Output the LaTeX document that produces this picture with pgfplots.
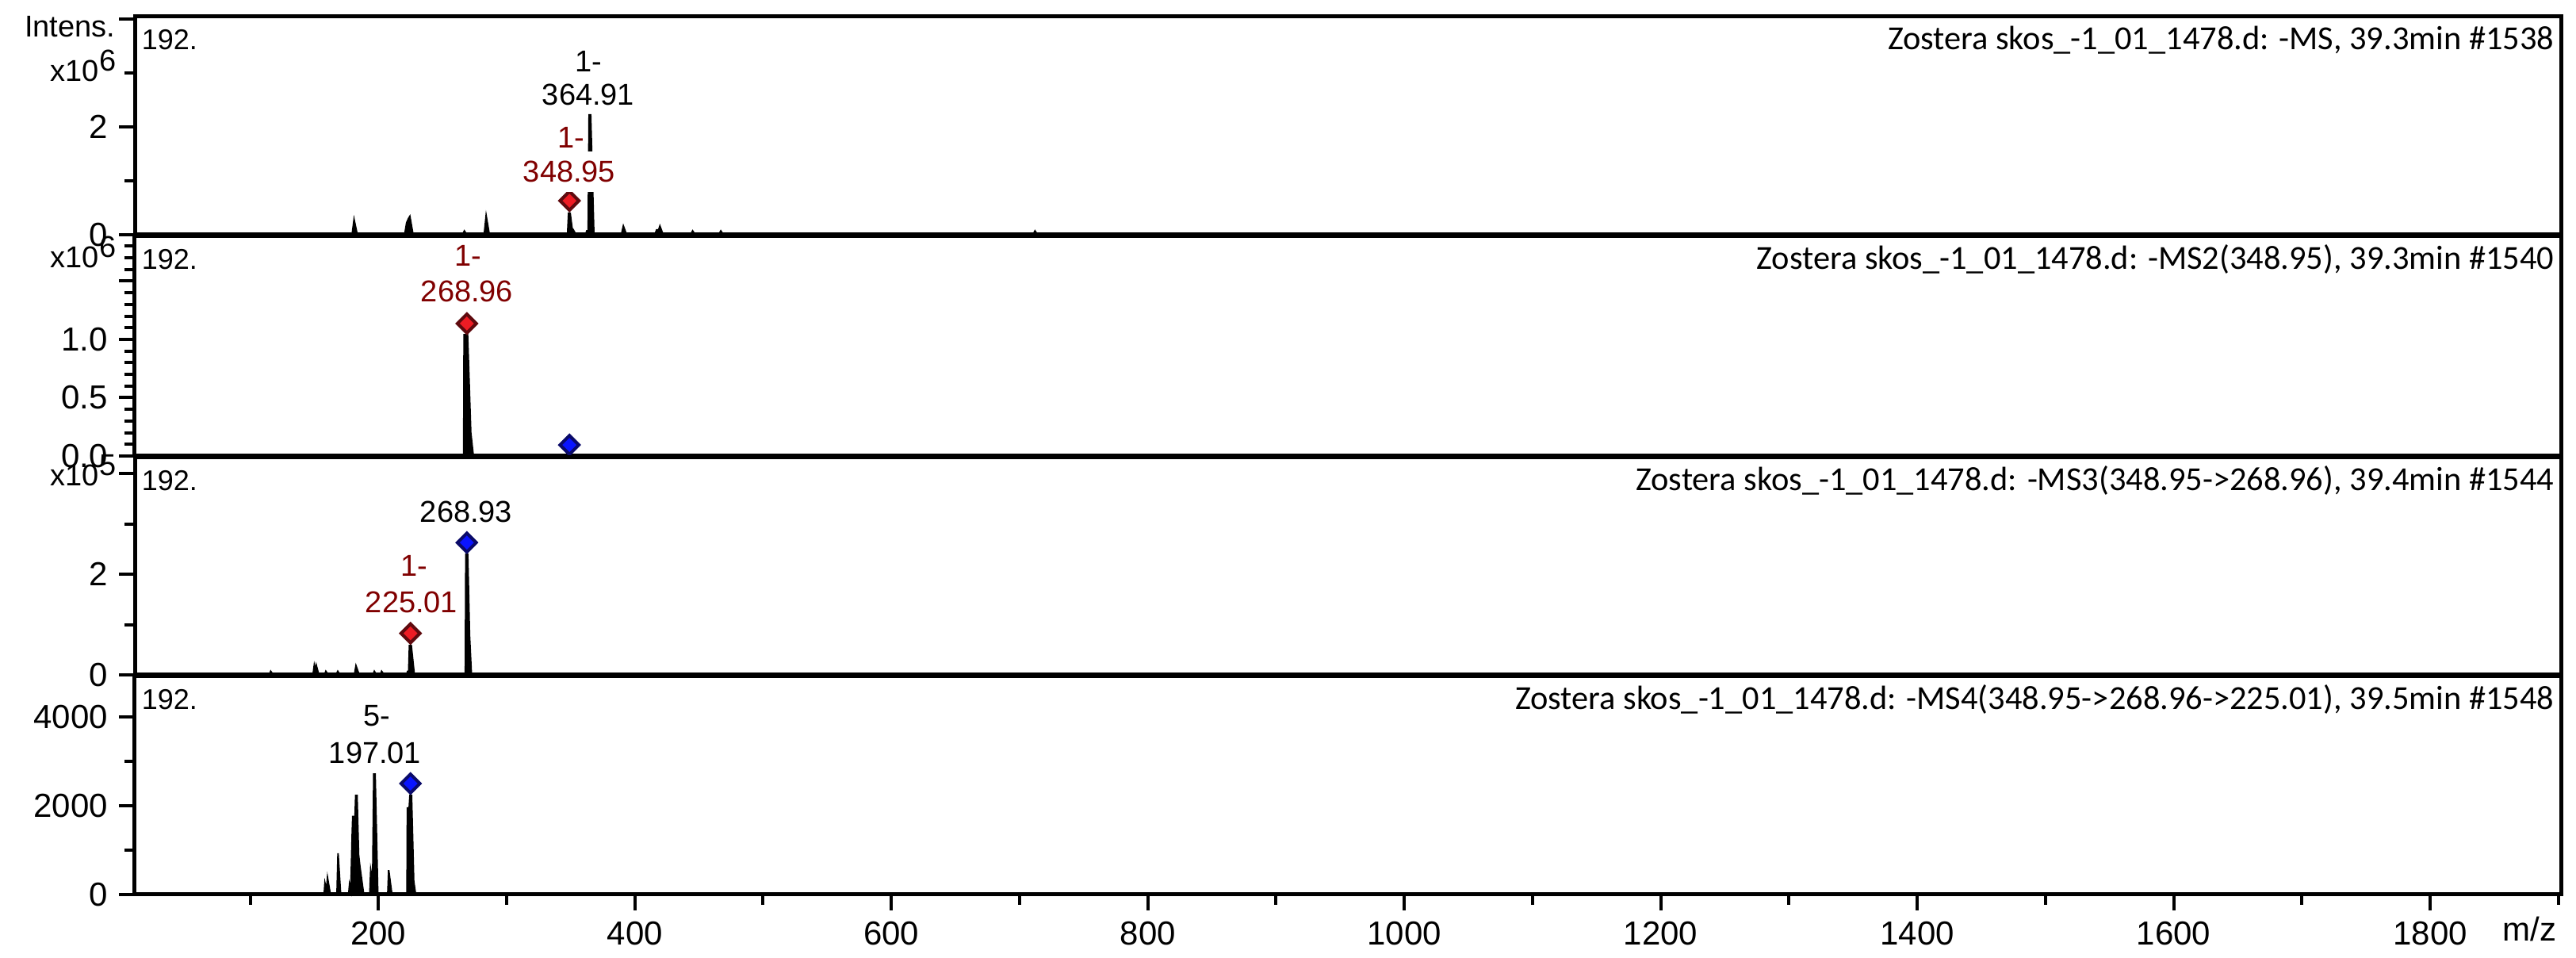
\documentclass[border=0pt]{standalone}
\usepackage{pgfplots}
\pgfplotsset{compat=1.18}
\usepackage{fontspec}
\setmainfont{Liberation Sans}
\newfontfamily\calfont{Carlito}
\definecolor{lblred}{RGB}{128,0,0}
\definecolor{dred}{RGB}{237,28,36}
\definecolor{dredE}{RGB}{95,10,14}
\definecolor{dblue}{RGB}{10,20,255}
\definecolor{dblueE}{RGB}{10,10,105}
\pgfplotsset{
  ms/.style={
    scale only axis, width=765pt, xmin=10, xmax=1902, ymin=0,
    axis line style={line width=1.25pt},
    tick style={line width=1pt, black},
    major tick length=5pt, minor tick length=3.25pt,
    tick align=outside, ytick pos=left, xtick pos=bottom,
    tick label style={font=\fontsize{10.5}{12}\selectfont},
    /pgf/number format/assume math mode=true,
    xtick=\empty, clip=false, axis on top,
  },
  spec/.style={fill=black, draw=black, line width=0.5pt},
  rmark/.style={only marks, mark=square*, mark size=2.1pt,
    mark options={rotate=45, fill=dred, draw=dredE, line width=1pt}},
  bmark/.style={only marks, mark=square*, mark size=2.1pt,
    mark options={rotate=45, fill=dblue, draw=dblueE, line width=1pt}},
}
\newcommand{\lab}{\fontsize{9.5}{11}\selectfont}
\newcommand{\ttl}{\calfont\fontsize{10.6}{12}\selectfont}
\begin{document}
\begin{tikzpicture}
\useasboundingbox (0,0) rectangle (812.25pt,-302pt);
% ---------- Panel 1: MS ----------
\begin{axis}[ms, at={(42.5pt,-74pt)}, anchor=south west, height=68.75pt,
  ymax=4.04, ytick={0,2,4}, yticklabels={0,2,{}}, minor ytick={1,3}]
\addplot[spec] coordinates {(10,0) (179.5,0) (181,0.28) (183.5,0) (220.5,0) (222,0.22) (223.5,0.30) (224.5,0.34) (227,0) (265.5,0) (267,0.07) (269,0) (282.5,0) (284,0.35) (286.5,0) (347.5,0) (348.3,0.40) (349.5,0.40) (351,0.12) (352,0.09) (354,0) (361.5,0) (362.5,0.07) (363.6,0.07) (364.3,2.22) (365.5,2.22) (368,0) (389.5,0) (391,0.16) (393.5,0) (415.5,0) (417,0.09) (418.5,0.09) (419.5,0.16) (422,0) (443.5,0) (445,0.07) (447,0) (465.5,0) (467,0.07) (469,0) (710.5,0) (712,0.07) (714,0) (1902,0)};
\addplot[rmark] coordinates {(348.95,0.63)};
\end{axis}
% ---------- Panel 2: MS2 ----------
\begin{axis}[ms, at={(42.5pt,-143.75pt)}, anchor=south west, height=69.25pt,
  ymax=1.884, ytick={0,0.5,1.0,1.5}, yticklabels={0.0,0.5,1.0,{}},
  minor ytick={0.1,0.2,0.3,0.4,0.6,0.7,0.8,0.9,1.1,1.2,1.3,1.4,1.6,1.7,1.8}]
\addplot[spec] coordinates {(10,0) (266.5,0) (266.8,1.04) (269.5,1.04) (272,0.2) (274,0) (1902,0)};
\addplot[rmark] coordinates {(268.96,1.136)};
\addplot[bmark] coordinates {(348.95,0.095)};
\end{axis}
% ---------- Panel 3: MS3 ----------
\begin{axis}[ms, at={(42.5pt,-212.75pt)}, anchor=south west, height=68.5pt,
  ymax=4.32, ytick={0,2,4}, yticklabels={0,2,{}}, minor ytick={1,3}]
\addplot[spec] coordinates {(10,0) (115,0) (116,0.07) (118,0) (149,0) (150,0.19) (150.8,0.10) (151.5,0.19) (153.5,0) (158,0) (159,0.07) (161,0) (167,0) (168.3,0.07) (170,0) (181.3,0) (182.5,0.18) (185,0) (195.8,0) (196.8,0.07) (198.5,0) (201.5,0) (202.5,0.07) (204.5,0) (221.8,0) (222.8,0.07) (223.6,0.07) (224.2,0.58) (225.6,0.58) (228,0) (267.8,0) (268.2,2.40) (269.6,2.40) (271,0.8) (272.5,0) (1902,0)};
\addplot[rmark] coordinates {(225.01,0.825)};
\addplot[bmark] coordinates {(268.93,2.63)};
\end{axis}
% ---------- Panel 4: MS4 ----------
\begin{axis}[ms, at={(42.5pt,-282pt)}, anchor=south west, height=68.75pt,
  ymax=4911, ytick={0,2000,4000}, yticklabels={0,2000,4000}, minor ytick={1000,3000},
  xtick={200,400,600,800,1000,1200,1400,1600,1800},
  xticklabels={200,400,600,800,1000,1200,1400,1600,1800},
  minor xtick={100,300,500,700,900,1100,1300,1500,1700,1900}]
\addplot[spec] coordinates {(10,0) (157.7,0) (158.3,255) (159.5,100) (160.3,375) (162.5,0) (167.7,0) (168.5,930) (170.5,0) (176.8,0) (177.5,230) (178.5,100) (179.6,1400) (180.0,1756) (181.8,1756) (182.3,2232) (183.3,2232) (184.5,900) (185.5,640) (188.5,0) (193.3,0) (194,550) (195.5,300) (196.4,2714) (197.4,2714) (199.5,0) (207.3,0) (208,550) (210.5,0) (222.3,0) (222.6,1950) (224,1950) (224.6,2232) (225.8,2232) (227.5,300) (229,0) (1902,0)};
\addplot[bmark] coordinates {(225.01,2500)};
\end{axis}
% ---------- texts ----------
\begin{scope}[x=0.25pt,y=-0.25pt]
\node[anchor=base east, inner sep=0pt, font=\lab] at (146,47) {Intens.};
\node[anchor=base east, inner sep=0pt, font=\lab] at (147,103) {x10\raisebox{3.25pt}{6}};
\node[anchor=base east, inner sep=0pt, font=\lab] at (147,338) {x10\raisebox{3.25pt}{6}};
\node[anchor=base east, inner sep=0pt, font=\lab] at (147,613) {x10\raisebox{3.25pt}{5}};
\foreach \t in {21,298,577,853} {
  \node[anchor=base west, inner sep=0pt, font=\fontsize{9}{11}\selectfont] at (178,\t+42) {192.};
}
\node[anchor=base east, inner sep=0pt, font=\ttl] at (3222,63) {Zostera skos\_-1\_01\_1478.d: -MS, 39.3min \#1538};
\node[anchor=base east, inner sep=0pt, font=\ttl] at (3222,340) {Zostera skos\_-1\_01\_1478.d: -MS2(348.95), 39.3min \#1540};
\node[anchor=base east, inner sep=0pt, font=\ttl] at (3222,619) {Zostera skos\_-1\_01\_1478.d: -MS3(348.95->268.96), 39.4min \#1544};
\node[anchor=base east, inner sep=0pt, font=\ttl] at (3222,895) {Zostera skos\_-1\_01\_1478.d: -MS4(348.95->268.96->225.01), 39.5min \#1548};
% peak labels
\node[anchor=base, inner sep=0pt, font=\lab] at (742,91) {1-};
\node[anchor=base, inner sep=0pt, font=\lab] at (742,133) {364.91};
\node[anchor=base, inner sep=0pt, font=\lab, text=lblred] at (720,187) {1-};
\node[anchor=base, fill=white, inner xsep=1pt, inner ysep=3pt, font=\lab, text=lblred] at (718,230) {348.95};
\node[anchor=base, inner sep=0pt, font=\lab, text=lblred] at (590,336) {1-};
\node[anchor=base, inner sep=0pt, font=\lab, text=lblred] at (589,381) {268.96};
\node[anchor=base, inner sep=0pt, font=\lab] at (588,659) {268.93};
\node[anchor=base, inner sep=0pt, font=\lab, text=lblred] at (522,727) {1-};
\node[anchor=base, inner sep=0pt, font=\lab, text=lblred] at (519,773) {225.01};
\node[anchor=base, inner sep=0pt, font=\lab] at (475,916) {5-};
\node[anchor=base, inner sep=0pt, font=\lab] at (473,962) {197.01};
\node[anchor=base east, inner sep=0pt, font=\fontsize{10.5}{12}\selectfont] at (3225,1186) {m/z};
\end{scope}
\end{tikzpicture}
\end{document}
